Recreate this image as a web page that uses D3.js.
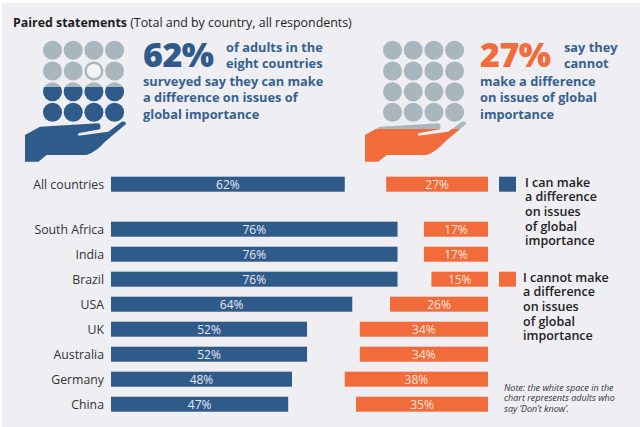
<!DOCTYPE html>
<html>
<head>
<meta charset="utf-8">
<script src="https://cdn.jsdelivr.net/npm/d3@7"></script>
<style>
  html, body { margin: 0; padding: 0; background: #ffffff; }
  svg { display: block; font-family: "Open Sans", sans-serif; }
</style>
</head>
<body>
<div id="chart"></div>
<script>
// Data
const countries = ["All countries", "South Africa", "India", "Brazil", "USA", "UK", "Australia", "Germany", "China"];
const canValues = [62, 76, 76, 76, 64, 52, 52, 48, 47];
const cannotValues = [27, 17, 17, 15, 26, 34, 34, 38, 35];

const legendCan = ["I can make", "a difference", "on issues", "of global", "importance"];
const legendCannot = ["I cannot make", "a difference", "on issues", "of global", "importance"];
const noteLines = ["Note: the white space in the", "chart represents adults who", "say \u2018Don\u2019t know\u2019."];

const headCan = { value: "62%", side: ["of adults in the", "eight countries"], body: ["surveyed say they can make", "a difference on issues of", "global importance"] };
const headCannot = { value: "27%", side: ["say they", "cannot"], body: ["make a difference", "on issues of global", "importance"] };

const width = 640, height = 427;
const blue = "#2f5b8b", orange = "#f26b3b", grey = "#a9b6be";
const headBlue = "#36618f";

const svg = d3.select("#chart").append("svg")
    .attr("width", width)
    .attr("height", height);

// background panel
svg.append("rect")
    .attr("x", 2).attr("y", 3)
    .attr("width", width - 2).attr("height", height - 3)
    .attr("fill", "#eeeef3");

// Title
const title = svg.append("text")
    .attr("x", 13).attr("y", 26.5)
    .attr("font-size", 12.4)
    .attr("fill", "#1e1e1e");
title.append("tspan").attr("font-weight", 700).text("Paired statements ");
title.append("tspan").attr("font-weight", 400).text("(Total and by country, all respondents)");

// Scales: the countries share one band scale, the total sits a little above it
const x = d3.scaleLinear().domain([0, 100]).range([111, 488]);
const y = d3.scaleBand().domain(countries.slice(1)).range([216.7, 416.7]).paddingInner(0.4).paddingOuter(0.2);
const rowY = name => name === countries[0] ? y(countries[1]) - 45 : y(name);

const rows = countries.map((c, i) => ({ name: c, can: canValues[i], cannot: cannotValues[i] }));

const g = svg.append("g");

// category labels
g.selectAll("text.cat")
    .data(rows)
    .enter().append("text")
    .attr("class", "cat")
    .attr("x", x(0) - 7)
    .attr("y", d => rowY(d.name) + y.bandwidth() / 2)
    .attr("dy", "0.35em")
    .attr("text-anchor", "end")
    .attr("font-size", 12.3)
    .attr("fill", "#333")
    .text(d => d.name);

// "can" bars
g.selectAll("rect.can")
    .data(rows)
    .enter().append("rect")
    .attr("class", "can")
    .attr("x", x(0))
    .attr("y", d => rowY(d.name))
    .attr("width", d => x(d.can) - x(0))
    .attr("height", y.bandwidth())
    .attr("fill", blue);

// "cannot" bars, anchored at the right end
g.selectAll("rect.cannot")
    .data(rows)
    .enter().append("rect")
    .attr("class", "cannot")
    .attr("x", d => x(100 - d.cannot))
    .attr("y", d => rowY(d.name))
    .attr("width", d => x(100) - x(100 - d.cannot))
    .attr("height", y.bandwidth())
    .attr("fill", orange);

// value labels
g.selectAll("text.canval")
    .data(rows)
    .enter().append("text")
    .attr("x", d => (x(0) + x(d.can)) / 2)
    .attr("y", d => rowY(d.name) + y.bandwidth() / 2)
    .attr("dy", "0.36em")
    .attr("text-anchor", "middle")
    .attr("font-size", 12)
    .attr("fill", "#e6e8f0")
    .text(d => d.can + "%");

g.selectAll("text.cannotval")
    .data(rows)
    .enter().append("text")
    .attr("x", d => (x(100 - d.cannot) + x(100)) / 2)
    .attr("y", d => rowY(d.name) + y.bandwidth() / 2)
    .attr("dy", "0.36em")
    .attr("text-anchor", "middle")
    .attr("font-size", 12)
    .attr("fill", "#fbe6dc")
    .text(d => d.cannot + "%");

// Legend
function legendItem(row, color, lines, tx) {
    const ly = rowY(row);
    svg.append("rect")
        .attr("x", 499).attr("y", ly)
        .attr("width", 17).attr("height", y.bandwidth())
        .attr("fill", color);
    svg.append("text")
        .attr("font-size", 12.5)
        .attr("font-weight", 600)
        .attr("fill", "#222")
        .selectAll("tspan")
        .data(lines)
        .enter().append("tspan")
        .attr("x", tx)
        .attr("y", (d, i) => ly + 10 + i * 14.6)
        .text(d => d);
}
legendItem(countries[0], blue, legendCan, 525);
legendItem("Brazil", orange, legendCannot, 523);

// Note
svg.append("text")
    .attr("font-size", 9)
    .attr("font-style", "italic")
    .attr("fill", "#333")
    .selectAll("tspan")
    .data(noteLines)
    .enter().append("tspan")
    .attr("x", 504)
    .attr("y", (d, i) => 391 + i * 10.3)
    .text(d => d);

// Icons: 4x4 dots resting on a hand, coloured below a fill level
const handPath = "M-18,135 L-3,126.7 L55.3,123.3 Q58.5,124 57,129.3 L35.3,133.3 L35.3,135.7 L65.3,131.7 L78.7,121.7 Q83,120.5 83,124 L62,141.7 Q54,151 43.7,155 L3.7,155 L-4.7,161.7 L-18,161.7 Z";
const dotCols = [9.5, 30.2, 50.9, 71.6];
const dotRows = [50.3, 71, 91.7, 112.3];

function icon(id, x0, level, color, hollow) {
    const gi = svg.append("g");
    const defs = svg.append("defs");
    defs.append("clipPath").attr("id", id + "-top")
        .append("rect").attr("x", x0 - 30).attr("y", 0).attr("width", 130).attr("height", level);
    defs.append("clipPath").attr("id", id + "-bot")
        .append("rect").attr("x", x0 - 30).attr("y", level).attr("width", 130).attr("height", 200);

    const dots = [];
    dotRows.forEach((cy, r) => dotCols.forEach((cx, c) => dots.push({ cx: x0 + cx, cy, hollow: hollow && hollow[0] === r && hollow[1] === c })));

    [["top", grey], ["bot", color]].forEach(([part, fill]) => {
        const layer = gi.append("g").attr("clip-path", `url(#${id}-${part})`);
        layer.selectAll("circle")
            .data(dots)
            .enter().append("circle")
            .attr("cx", d => d.cx)
            .attr("cy", d => d.cy)
            .attr("r", d => d.hollow ? 8.3 : 9.5)
            .attr("fill", d => d.hollow ? "#f4f4f7" : fill)
            .attr("stroke", d => d.hollow ? fill : "none")
            .attr("stroke-width", d => d.hollow ? 2.4 : 0);
        layer.append("path")
            .attr("d", handPath)
            .attr("transform", `translate(${x0},0)`)
            .attr("fill", fill);
    });
}
icon("ic1", 43, 87, blue, [1, 2]);
icon("ic2", 383, 129, orange, null);

// Headlines
function headline(h, x0, sideX, color, bodyColor) {
    svg.append("text")
        .attr("x", x0).attr("y", 67)
        .attr("font-size", 34)
        .attr("font-weight", 800)
        .attr("fill", color)
        .attr("letter-spacing", -0.5)
        .text(h.value);
    const t = svg.append("text")
        .attr("font-size", 12.8)
        .attr("font-weight", 700)
        .attr("fill", bodyColor);
    h.side.forEach((s, i) => t.append("tspan").attr("x", sideX).attr("y", 52 + i * 16).text(s));
    h.body.forEach((s, i) => t.append("tspan").attr("x", x0).attr("y", 85.5 + i * 16.5).text(s));
}
headline(headCan, 143, 226, blue, headBlue);
headline(headCannot, 480, 564, orange, headBlue);
</script>
</body>
</html>
